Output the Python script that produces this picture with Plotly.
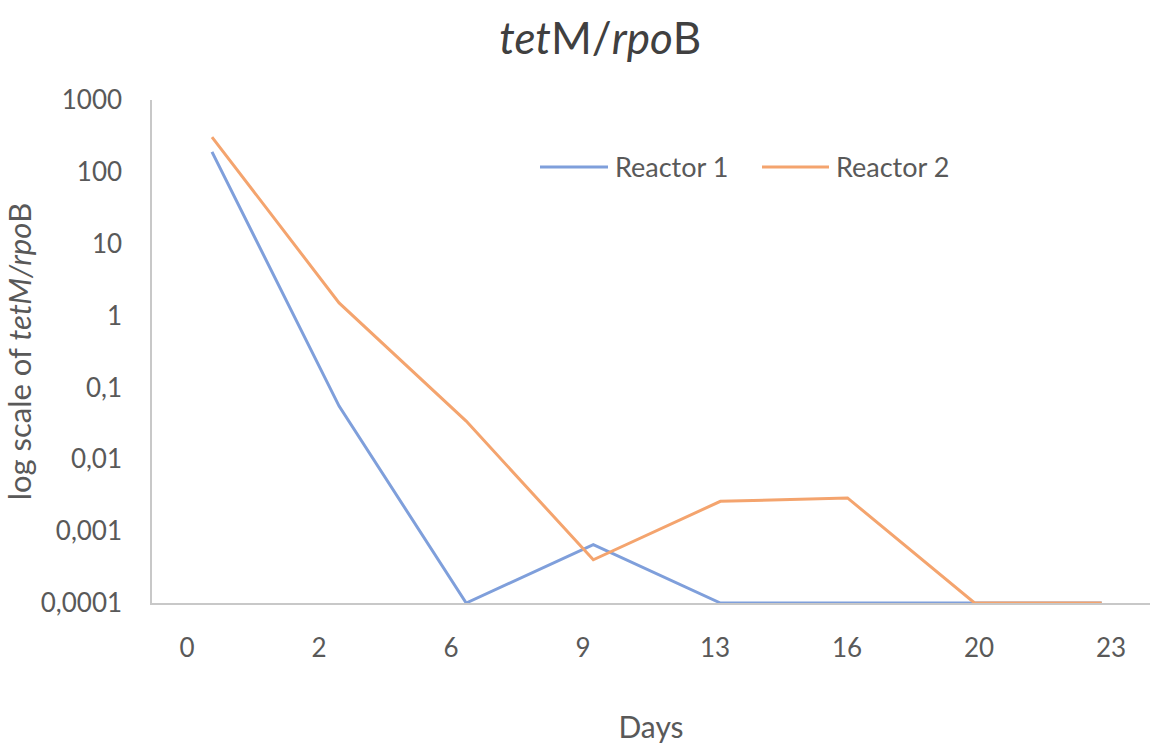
import plotly.graph_objects as go

days = ["0", "2", "6", "9", "13", "16", "20", "23"]
reactor1 = [190, 0.055, 0.0001, 0.00065, 0.0001, 0.0001, 0.0001, 0.0001]
reactor2 = [305, 1.5, 0.034, 0.0004, 0.0026, 0.0029, 0.0001, 0.0001]
series_names = ["Reactor 1", "Reactor 2"]
series_colors = ["#7F9FDB", "#F4A46E"]
ytick_vals = [0.0001, 0.001, 0.01, 0.1, 1, 10, 100, 1000]
ytick_text = ["0,0001", "0,001", "0,01", "0,1", "1", "10", "100", "1000"]

FONT = "Lato, 'Noto Sans', sans-serif"
GREY = "#595959"

fig = go.Figure()
for name, vals, col in zip(series_names, [reactor1, reactor2], series_colors):
    fig.add_trace(go.Scatter(x=days, y=vals, mode="lines", name=name,
                             line=dict(color=col, width=3), showlegend=False))

# dummy invisible trace on xaxis2 so its ticks render
fig.add_trace(go.Scatter(x=[0], y=[1], xaxis="x2", mode="markers",
                         marker=dict(opacity=0), showlegend=False, hoverinfo="skip"))

# manual legend (long line samples as in the reference)
PL, PW, PB, PH = 152, 998, 603, 503
def px(x):
    return (x - PL) / PW
def py(y):
    return (PB - y) / PH

legend_items = [(540, 608, 613), (762, 829, 834)]
for (x0, x1, xt), name, col in zip(legend_items, series_names, series_colors):
    fig.add_shape(type="line", xref="paper", yref="paper",
                  x0=px(x0), x1=px(x1), y0=py(167), y1=py(167),
                  line=dict(color=col, width=3))
    fig.add_annotation(xref="paper", yref="paper", x=px(xt), y=py(166),
                       xanchor="left", yanchor="middle", showarrow=False,
                       text=name, font=dict(size=27, color=GREY, family=FONT))

fig.update_layout(
    width=1150, height=747,
    margin=dict(l=152, r=0, t=100, b=144),
    paper_bgcolor="white", plot_bgcolor="white",
    font=dict(family=FONT, color=GREY, size=26),
    title=dict(text="<i>tet</i>M/<i>rpo</i>B", x=0.522, xanchor="center",
               y=0.948, yanchor="middle",
               font=dict(size=44, color="#404040", family=FONT)),
    showlegend=False,
    xaxis=dict(type="category", categoryorder="array", categoryarray=days,
               range=[-0.472, 7.38], showticklabels=False, ticks="",
               showline=True, linecolor="#C8C8C8", linewidth=1.5,
               showgrid=False, zeroline=False),
    xaxis2=dict(overlaying="x", side="bottom", anchor="y",
                tickmode="array", tickvals=list(range(len(days))), ticktext=days,
                range=[-0.265, 7.295], showline=False, showgrid=False,
                zeroline=False, ticks="", ticklabelstandoff=27,
                tickfont=dict(size=26, color=GREY),
                title=dict(text="Days", font=dict(size=30, color=GREY), standoff=54)),
    yaxis=dict(type="log", range=[-4, 3], tickmode="array",
               tickvals=ytick_vals, ticktext=ytick_text,
               showline=True, linecolor="#C8C8C8", linewidth=1.5,
               showgrid=False, zeroline=False, ticks="",
               ticklabelstandoff=23,
               tickfont=dict(size=26, color=GREY),
               title=dict(text="log scale of <i>tetM/rpo</i>B",
                          font=dict(size=31, color=GREY), standoff=2)),
)

fig.write_html("out.html")
